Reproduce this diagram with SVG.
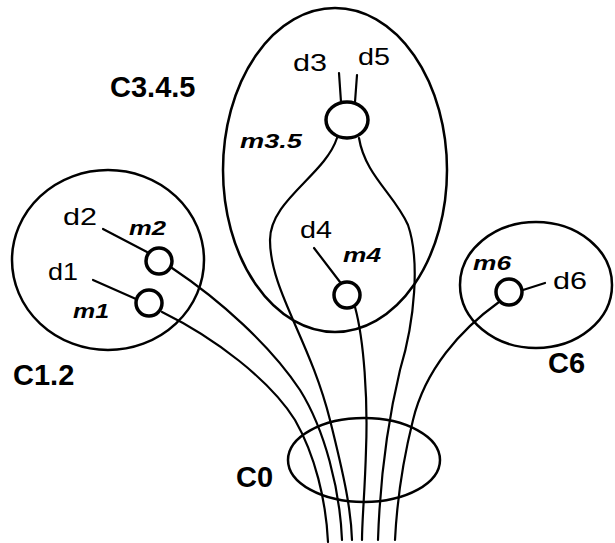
<svg xmlns="http://www.w3.org/2000/svg" width="615" height="543" viewBox="0 0 615 543">
<style>
.cl{fill:none;stroke:#000;stroke-width:2.5}
.nd{fill:#fff;stroke:#000;stroke-width:3.5}
.ln{fill:none;stroke:#000;stroke-width:2.2;stroke-linecap:round}
.d{font-family:"Liberation Sans",Arial,sans-serif;font-size:24px;fill:#000}
.m{font-family:"Liberation Sans",Arial,sans-serif;font-size:20px;font-weight:bold;font-style:italic;fill:#000}
.c{font-family:"Liberation Sans",Arial,sans-serif;font-size:29px;font-weight:bold;fill:#000}
</style>
<rect width="615" height="543" fill="#fff"/>
<g id="C1.2">
<ellipse class="cl" cx="108" cy="260" rx="96" ry="90"/>
<text class="c" x="13" y="385">C1.2</text>
</g>
<g id="C3.4.5">
<ellipse class="cl" cx="335" cy="170" rx="112" ry="162"/>
<text class="c" x="110" y="97">C3.4.5</text>
</g>
<g id="C6">
<ellipse class="cl" cx="536" cy="285" rx="76" ry="63"/>
<text class="c" x="548" y="373">C6</text>
</g>
<g id="C0">
<ellipse class="cl" cx="364" cy="460" rx="76" ry="42"/>
<text class="c" x="236" y="487">C0</text>
</g>
<g id="connectors">
<path class="ln" d="M103,229 L147,252"/>
<path class="ln" d="M93,280 L136,299"/>
<path class="ln" d="M339,73 L341,102"/>
<path class="ln" d="M357,75 L355,102"/>
<path class="ln" d="M314,248 L340,282"/>
<path class="ln" d="M523,290 L545,283"/>
<path class="ln" d="M162,312 C215,338 270,380 295,420 C315,455 326,500 328,542"/>
<path class="ln" d="M172,268 C220,300 270,345 300,390 C325,430 340,490 342,540"/>
<path class="ln" d="M337,138 C325,175 270,200 270,240 C270,290 310,340 330,420 C345,480 351,510 352,540"/>
<path class="ln" d="M359,138 C365,175 395,195 408,225 C420,260 415,320 400,370 C388,420 380,480 378,540"/>
<path class="ln" d="M355,307 C364,340 368,400 366,450 C365,490 362,520 362,540"/>
<path class="ln" d="M499,302 C460,330 425,370 413,420 C403,460 397,500 395,540"/>
</g>
<g id="m2">
<circle class="nd" cx="159" cy="261" r="13" stroke-width="3"/>
<text class="m" x="129" y="235" textLength="37" lengthAdjust="spacingAndGlyphs">m2</text>
<text class="d" x="63" y="225" textLength="34" lengthAdjust="spacingAndGlyphs">d2</text>
</g>
<g id="m1">
<circle class="nd" cx="149" cy="303" r="13" stroke-width="3"/>
<text class="m" x="73" y="318" textLength="36" lengthAdjust="spacingAndGlyphs">m1</text>
<text class="d" x="48" y="280" textLength="30" lengthAdjust="spacingAndGlyphs">d1</text>
</g>
<g id="m3.5">
<ellipse class="nd" cx="347" cy="120" rx="21" ry="18" stroke-width="4"/>
<text class="m" x="240" y="148" textLength="62" lengthAdjust="spacingAndGlyphs">m3.5</text>
<text class="d" x="293" y="71" textLength="34" lengthAdjust="spacingAndGlyphs">d3</text>
<text class="d" x="358" y="65" textLength="32" lengthAdjust="spacingAndGlyphs">d5</text>
</g>
<g id="m4">
<circle class="nd" cx="347" cy="295" r="13" stroke-width="4"/>
<text class="m" x="343" y="262" textLength="38" lengthAdjust="spacingAndGlyphs">m4</text>
<text class="d" x="300" y="238" textLength="32" lengthAdjust="spacingAndGlyphs">d4</text>
</g>
<g id="m6">
<circle class="nd" cx="509" cy="292" r="13" stroke-width="4"/>
<text class="m" x="473" y="270" textLength="38" lengthAdjust="spacingAndGlyphs">m6</text>
<text class="d" x="553" y="289" textLength="34" lengthAdjust="spacingAndGlyphs">d6</text>
</g>
</svg>
